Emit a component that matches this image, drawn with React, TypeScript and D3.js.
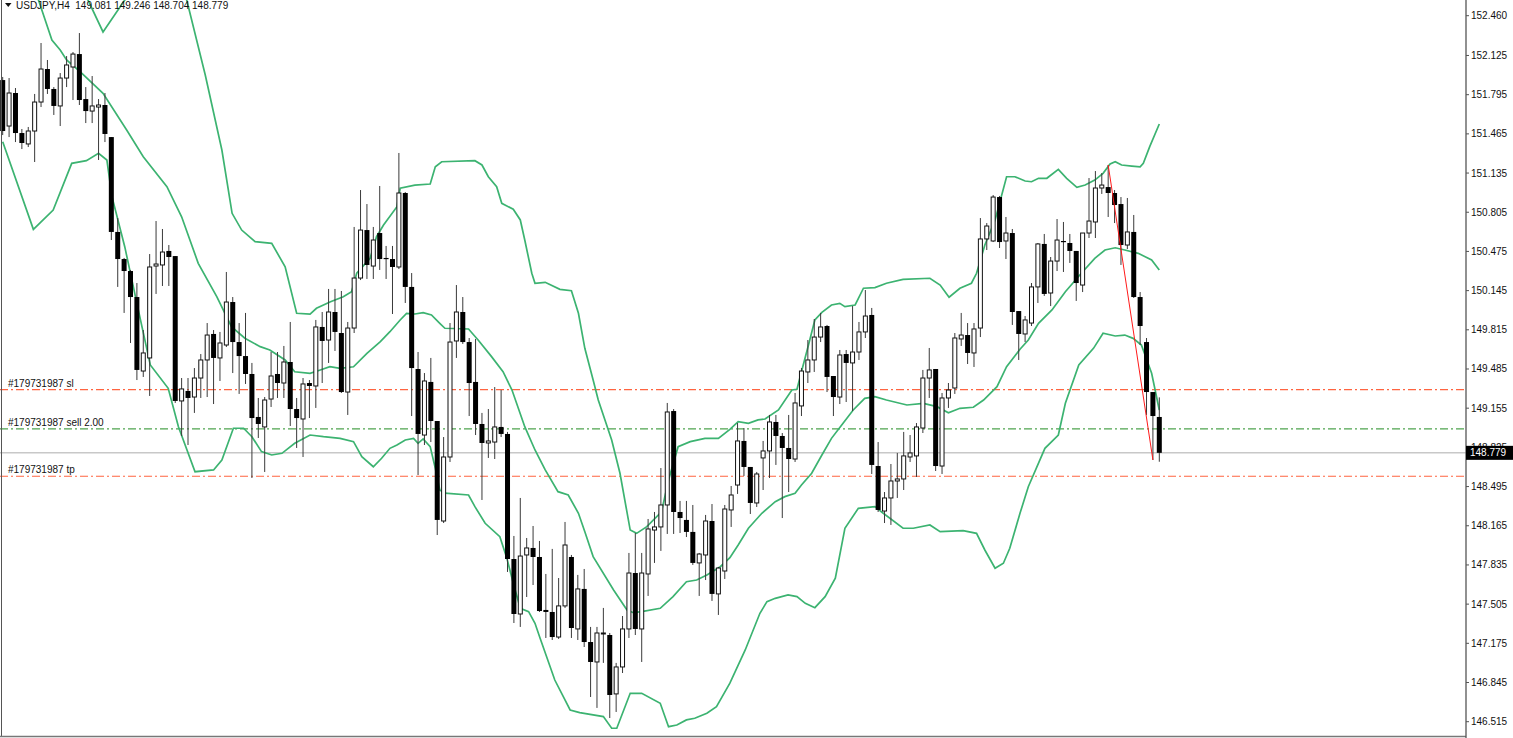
import React from "react";
import * as d3 from "d3";

const W = 1513;
const H = 738;
const PLOT_RIGHT = 1466;
const PLOT_BOTTOM = 736.5;

const symbolTitle = "USDJPY,H4";
const ohlcTitle = ["149.081", "149.246", "148.704", "148.779"];

// [open, high, low, close] per H4 bar
const opens = [
  151.918, 151.531, 151.809, 151.472, 151.380, 151.489, 151.733, 152.011, 151.843, 151.700,
  151.935, 152.028, 152.137, 151.758, 151.657, 151.691, 151.708, 151.438, 150.639, 150.411,
  150.310, 150.091, 149.468, 149.578, 150.352, 150.361, 150.479, 150.436, 149.216, 149.300,
  149.249, 149.409, 149.561, 149.780, 149.578, 149.687, 150.049, 149.712, 149.594, 149.443,
  149.081, 148.997, 149.232, 149.443, 149.367, 149.544, 149.148, 149.064, 149.367, 149.342,
  149.839, 149.729, 149.965, 149.788, 149.291, 149.830, 150.251, 150.655, 150.352, 150.630,
  150.420, 150.411, 150.344, 150.967, 150.176, 149.485, 148.929, 149.376, 149.047, 148.205,
  148.744, 149.721, 149.965, 149.712, 149.376, 149.022, 148.862, 148.870, 148.997, 148.938,
  147.885, 147.422, 147.919, 147.978, 147.902, 147.456, 147.439, 147.228, 147.490, 147.902,
  147.296, 147.633, 147.186, 147.018, 147.254, 147.245, 146.749, 146.976, 147.296, 147.767,
  147.296, 147.759, 148.129, 148.155, 148.340, 149.131, 148.281, 148.214, 148.113, 147.852,
  147.919, 148.205, 147.591, 147.784, 148.298, 148.508, 148.879, 148.660, 148.357, 148.736,
  148.795, 149.039, 148.921, 148.820, 148.727, 149.174, 149.460, 149.561, 149.754, 149.847,
  149.426, 149.249, 149.611, 149.536, 149.628, 149.797, 149.940, 148.668, 148.289, 148.399,
  148.542, 148.559, 148.744, 148.753, 148.988, 149.409, 149.485, 148.668, 149.241, 149.325,
  149.738, 149.771, 149.620, 149.830, 150.580, 150.563, 150.933, 150.563, 150.630, 149.973,
  149.780, 149.872, 150.176, 150.538, 150.125, 150.394, 150.563, 150.546, 150.479, 150.192,
  150.630, 150.723, 151.009, 151.017, 150.967, 150.874, 150.529, 150.639, 150.091, 149.712,
  149.291, 149.081,
];
const highs = [
  151.944, 151.935, 151.851, 151.506, 151.523, 151.801, 152.230, 152.087, 151.859, 151.977,
  152.120, 152.154, 152.314, 151.859, 151.952, 151.758, 151.809, 151.438, 150.756, 150.420,
  150.319, 150.209, 149.813, 150.453, 150.731, 150.664, 150.529, 150.436, 149.409, 149.409,
  149.493, 149.611, 149.872, 149.813, 149.797, 150.302, 150.091, 149.872, 149.957, 149.536,
  149.241, 149.249, 149.628, 149.628, 149.679, 149.881, 149.241, 149.409, 149.392, 149.898,
  149.965, 150.159, 150.159, 150.142, 149.881, 150.681, 150.992, 150.874, 150.681, 151.026,
  150.521, 150.521, 151.304, 150.975, 150.293, 149.628, 149.451, 149.578, 149.047, 148.912,
  149.872, 150.192, 150.091, 149.746, 149.738, 149.115, 149.148, 149.333, 149.308, 148.955,
  148.079, 148.399, 148.062, 148.163, 148.037, 147.759, 147.970, 147.725, 148.197, 147.919,
  147.751, 147.801, 147.313, 147.313, 147.473, 147.262, 147.010, 147.405, 147.936, 148.104,
  147.936, 148.222, 148.281, 148.651, 149.199, 149.148, 148.374, 148.374, 148.340, 147.936,
  148.256, 148.348, 147.818, 148.340, 148.500, 149.030, 148.988, 148.660, 148.618, 148.879,
  149.098, 149.098, 148.946, 149.098, 149.283, 149.493, 149.729, 149.906, 149.957, 149.856,
  149.426, 149.645, 149.645, 150.015, 149.881, 150.150, 149.999, 148.870, 148.449, 148.685,
  148.778, 148.955, 148.929, 149.030, 149.477, 149.662, 149.485, 149.283, 149.367, 149.788,
  149.957, 149.872, 149.872, 150.756, 150.714, 150.950, 150.942, 150.765, 150.664, 149.973,
  149.931, 150.209, 150.546, 150.622, 150.428, 150.748, 150.723, 150.622, 150.479, 150.630,
  151.093, 151.152, 151.135, 151.203, 150.992, 150.933, 150.925, 150.782, 150.133, 149.746,
  149.291, 149.246,
];
const lows = [
  151.455, 151.438, 151.396, 151.337, 151.354, 151.228, 151.691, 151.801, 151.624, 151.531,
  151.859, 151.750, 151.708, 151.556, 151.556, 151.245, 151.396, 150.571, 150.176, 149.957,
  149.704, 149.392, 149.418, 149.258, 150.117, 150.184, 150.184, 149.199, 148.921, 148.845,
  149.115, 149.241, 149.249, 149.190, 149.384, 149.670, 149.451, 149.275, 149.359, 148.567,
  148.904, 148.618, 149.165, 149.241, 149.241, 149.005, 148.820, 148.744, 149.072, 149.157,
  149.367, 149.536, 149.637, 149.283, 149.098, 149.788, 150.234, 150.243, 150.243, 150.319,
  150.243, 149.948, 150.327, 150.041, 149.089, 148.592, 148.845, 148.870, 148.087, 148.188,
  148.702, 149.578, 149.696, 149.089, 148.929, 148.382, 148.736, 148.727, 148.912, 147.776,
  147.346, 147.313, 147.565, 147.666, 147.439, 147.220, 147.203, 147.212, 147.473, 147.220,
  147.203, 147.144, 146.723, 146.631, 147.010, 146.546, 146.597, 146.925, 147.220, 147.245,
  147.018, 147.574, 147.852, 147.953, 148.096, 148.096, 148.104, 148.070, 147.835, 147.574,
  147.708, 147.532, 147.414, 147.717, 148.155, 148.433, 148.584, 148.264, 148.323, 148.466,
  148.567, 148.677, 148.230, 148.449, 148.702, 149.089, 149.367, 149.460, 149.712, 149.291,
  149.089, 149.190, 149.207, 149.131, 149.561, 149.746, 148.601, 148.281, 148.188, 148.172,
  148.399, 148.466, 148.702, 148.576, 148.946, 149.241, 148.626, 148.601, 149.157, 149.275,
  149.679, 149.527, 149.502, 149.754, 150.487, 150.554, 150.504, 150.411, 149.856, 149.561,
  149.712, 149.847, 150.041, 150.100, 150.015, 150.310, 150.302, 150.378, 150.058, 150.133,
  150.588, 150.588, 150.959, 150.765, 150.714, 150.361, 150.495, 150.083, 149.687, 149.098,
  148.719, 148.704,
];
const closes = [
  151.489, 151.809, 151.472, 151.388, 151.489, 151.733, 152.011, 151.843, 151.700, 151.935,
  152.045, 152.137, 151.750, 151.657, 151.700, 151.708, 151.464, 150.639, 150.411, 150.310,
  150.091, 149.477, 149.620, 150.344, 150.369, 150.470, 150.428, 149.216, 149.317, 149.241,
  149.409, 149.561, 149.771, 149.578, 149.704, 150.049, 149.712, 149.594, 149.443, 149.072,
  149.022, 149.224, 149.426, 149.367, 149.544, 149.148, 149.072, 149.359, 149.342, 149.839,
  149.721, 149.965, 149.797, 149.291, 149.830, 150.251, 150.655, 150.361, 150.571, 150.411,
  150.411, 150.344, 150.967, 150.176, 149.493, 148.938, 149.384, 149.047, 148.214, 148.744,
  149.712, 149.965, 149.712, 149.367, 149.022, 148.862, 148.879, 148.997, 148.938, 147.885,
  147.422, 147.910, 147.978, 147.902, 147.447, 147.439, 147.228, 147.490, 148.003, 147.304,
  147.633, 147.186, 147.018, 147.262, 147.262, 146.740, 146.976, 147.296, 147.767, 147.296,
  147.767, 148.138, 148.155, 148.340, 149.123, 148.281, 148.230, 148.113, 147.852, 147.927,
  148.205, 147.591, 147.809, 148.306, 148.424, 148.879, 148.660, 148.357, 148.601, 148.795,
  149.039, 148.921, 148.820, 148.727, 149.199, 149.468, 149.561, 149.754, 149.839, 149.418,
  149.249, 149.603, 149.536, 149.628, 149.797, 149.931, 148.677, 148.298, 148.399, 148.542,
  148.559, 148.753, 148.778, 148.997, 149.409, 149.477, 148.668, 149.241, 149.308, 149.746,
  149.771, 149.620, 149.822, 150.580, 150.689, 150.933, 150.554, 150.630, 149.965, 149.780,
  149.898, 150.176, 150.538, 150.117, 150.394, 150.571, 150.554, 150.479, 150.209, 150.630,
  150.731, 151.009, 151.034, 150.967, 150.866, 150.529, 150.639, 150.091, 149.847, 149.291,
  149.089, 148.779,
];

// Bollinger Bands as [bar index, price]
const bandUpper: [number, number][] = [
  [0, 153.518], [7.4, 153.013], [13.35, 152.592], [15.7, 152.323], [19.1, 152.592], [23.05, 152.803],
  [26.2, 152.76], [28.8, 152.592], [31.7, 151.961], [34.3, 151.329], [35.9, 150.796], [37.4, 150.655],
  [39.5, 150.557], [42.1, 150.543], [44.2, 150.346], [46.0, 149.954], [48.1, 149.948], [49.1, 149.996],
  [51.3, 150.052], [53.3, 150.094], [54.6, 150.136], [55.4, 150.291], [57.5, 150.417], [58.5, 150.599],
  [59.6, 150.698], [61.7, 150.852], [62.2, 151.007], [64.5, 151.034], [66.9, 151.043], [67.7, 151.188],
  [68.7, 151.23], [73.9, 151.239], [75.0, 151.203], [76.0, 151.104], [77.3, 151.02], [78.1, 150.88],
  [79.9, 150.83], [81.0, 150.74], [81.7, 150.571], [82.8, 150.291], [83.3, 150.207], [84.9, 150.215],
  [87.2, 150.156], [89.0, 150.144], [90.1, 149.954], [91.1, 149.659], [92.4, 149.392], [93.2, 149.224],
  [95.3, 148.887], [96.6, 148.607], [98.2, 148.129], [99.2, 148.101], [100.8, 148.157], [103.1, 148.283],
  [104.2, 148.55], [105.7, 148.831], [107.6, 148.873], [109.9, 148.901], [112.0, 148.901], [113.8, 148.977],
  [115.1, 149.041], [116.7, 149.028], [118.2, 149.056], [119.3, 149.064], [121.4, 149.14], [123.5, 149.308],
  [124.3, 149.314], [125.0, 149.462], [126.1, 149.687], [127.1, 149.898], [128.2, 149.962], [129.7, 150.024],
  [131.0, 150.038], [131.8, 150.01], [133.4, 150.024], [134.7, 150.165], [136.5, 150.17], [138.3, 150.207],
  [140.9, 150.24], [145.1, 150.249], [146.7, 150.192], [148.1, 150.089], [149.8, 150.165], [151.6, 150.207],
  [152.4, 150.291], [153.7, 150.529], [155.3, 150.74], [157.1, 151.104], [158.4, 151.104], [160.0, 151.068],
  [161.0, 151.062], [162.1, 151.091], [163.4, 151.091], [165.2, 151.166], [166.5, 151.091], [168.1, 151.015],
  [169.4, 151.034], [170.9, 151.076], [172.2, 151.133], [173.3, 151.211], [174.1, 151.231], [175.1, 151.203],
  [176.7, 151.194], [178.0, 151.188], [178.5, 151.217], [179.5, 151.357], [181.0, 151.548],
];
const bandMiddle: [number, number][] = [
  [0, 153.097], [5.6, 152.592], [7.7, 152.255], [9.0, 152.171], [10.0, 152.087], [12.4, 151.975],
  [15.7, 151.806], [19.4, 151.497], [22.0, 151.273], [25.7, 151.02], [28.0, 150.767], [30.6, 150.375],
  [33.5, 150.094], [35.8, 149.841], [37.9, 149.744], [40.3, 149.673], [41.8, 149.645], [44.2, 149.561],
  [45.7, 149.462], [48.1, 149.449], [49.7, 149.477], [51.2, 149.504], [52.8, 149.491], [54.9, 149.504],
  [57.0, 149.617], [59.1, 149.715], [60.6, 149.799], [62.2, 149.898], [63.2, 149.954], [64.5, 149.948],
  [65.8, 149.959], [67.1, 149.94], [68.4, 149.87], [69.2, 149.828], [72.9, 149.822], [74.4, 149.729],
  [76.5, 149.589], [78.3, 149.462], [79.7, 149.308], [81.7, 148.999], [83.3, 148.803], [84.9, 148.635],
  [86.9, 148.452], [88.5, 148.424], [90.1, 148.27], [91.1, 148.115], [92.4, 147.905], [95.6, 147.624],
  [97.7, 147.456], [98.7, 147.433], [100.0, 147.442], [102.9, 147.47], [104.9, 147.568], [107.0, 147.694],
  [108.6, 147.708], [110.2, 147.751], [112.3, 147.82], [113.8, 147.896], [115.1, 148.003], [116.7, 148.144],
  [118.8, 148.27], [120.9, 148.368], [122.4, 148.41], [124.0, 148.438], [125.0, 148.508], [126.6, 148.607],
  [128.2, 148.761], [129.7, 148.901], [131.3, 149.014], [133.1, 149.14], [134.9, 149.238], [136.5, 149.252],
  [138.3, 149.224], [141.5, 149.182], [144.1, 149.196], [146.2, 149.168], [148.0, 149.117], [149.8, 149.154],
  [151.9, 149.163], [153.5, 149.224], [155.6, 149.336], [157.1, 149.504], [159.2, 149.651], [160.5, 149.729],
  [162.1, 149.87], [164.2, 149.982], [166.3, 150.136], [168.8, 150.291], [170.9, 150.417], [172.5, 150.487],
  [174.1, 150.506], [175.6, 150.487], [177.7, 150.459], [179.8, 150.403], [181.0, 150.319],
];
const bandLower: [number, number][] = [
  [0, 151.399], [4.8, 150.661], [7.9, 150.824], [10.8, 151.217], [13.1, 151.239], [15.0, 151.301],
  [16.3, 151.245], [17.1, 150.936], [19.1, 150.515], [21.0, 150.038], [23.1, 149.519], [25.9, 149.322],
  [27.5, 148.999], [30.1, 148.62], [33.0, 148.635], [34.3, 148.719], [36.1, 148.986], [37.7, 148.986],
  [39.0, 148.915], [40.5, 148.789], [42.1, 148.761], [43.7, 148.775], [45.7, 148.86], [48.1, 148.929],
  [50.2, 148.915], [52.8, 148.901], [54.9, 148.873], [56.2, 148.747], [58.0, 148.662], [59.3, 148.733],
  [60.6, 148.817], [61.7, 148.845], [63.0, 148.887], [64.3, 148.901], [65.0, 148.859], [65.8, 148.896],
  [66.9, 148.831], [67.7, 148.649], [68.4, 148.466], [69.2, 148.439], [72.9, 148.424], [73.9, 148.326],
  [75.5, 148.186], [77.8, 148.073], [78.9, 147.891], [79.9, 147.681], [81.0, 147.47], [82.3, 147.442],
  [83.3, 147.344], [84.1, 147.217], [86.4, 146.866], [88.8, 146.614], [90.3, 146.591], [94.0, 146.558],
  [95.3, 146.46], [96.1, 146.46], [98.2, 146.754], [100.0, 146.754], [102.9, 146.67], [104.2, 146.473],
  [105.5, 146.487], [107.0, 146.53], [108.3, 146.544], [110.2, 146.586], [111.7, 146.642], [113.8, 146.839],
  [116.2, 147.119], [118.5, 147.428], [119.6, 147.526], [120.9, 147.554], [122.9, 147.582], [124.3, 147.568],
  [125.6, 147.512], [127.1, 147.475], [128.7, 147.568], [130.3, 147.723], [131.8, 148.144], [133.9, 148.312],
  [136.5, 148.326], [137.8, 148.27], [140.9, 148.144], [142.5, 148.144], [145.1, 148.172], [146.7, 148.115],
  [150.3, 148.124], [152.4, 148.101], [153.7, 147.961], [155.3, 147.807], [156.6, 147.849], [157.6, 147.975],
  [159.2, 148.27], [160.5, 148.494], [163.1, 148.817], [165.2, 148.929], [166.3, 149.196], [168.4, 149.519],
  [170.7, 149.659], [172.2, 149.786], [174.1, 149.763], [175.6, 149.771], [176.9, 149.743], [178.2, 149.687],
  [179.8, 149.449], [181.0, 149.14],
];

// trend line drawn on the chart (bar index, price)
const trendLine: [number, number][] = [[173, 151.203], [180, 148.719]];

const priceTicks = [
  152.46, 152.125, 151.795, 151.465, 151.135, 150.805, 150.475, 150.145, 149.815, 149.485,
  149.155, 148.825, 148.495, 148.165, 147.835, 147.505, 147.175, 146.845, 146.515,
];

const orderId = "#179731987";
const orderLines = [
  { label: `${orderId} sl`, price: 149.311, kind: "stop" },
  { label: `${orderId} sell 2.00`, price: 148.98, kind: "entry" },
  { label: `${orderId} tp`, price: 148.582, kind: "stop" },
];
const lastPrice = 148.779;

const FONT = "'Liberation Sans', Arial, sans-serif";
const BAND_COLOR = "#3cb371";

export default function App() {
  const n = opens.length;
  const x = d3.scaleLinear().domain([0, n - 1]).range([2.7, 1159.3]);
  const y = d3.scaleLinear().domain([146.515, 152.46]).range([721.7, 15.7]);

  const line = d3
    .line<[number, number]>()
    .x((d) => x(d[0]))
    .y((d) => y(d[1]))
    .curve(d3.curveLinear);

  const candles = d3.range(n).map((i) => {
    const o = opens[i], h = highs[i], l = lows[i], c = closes[i];
    const bull = c >= o;
    const cx = x(i);
    const top = y(Math.max(o, c));
    const bot = y(Math.min(o, c));
    return (
      <g key={i}>
        <line x1={cx} x2={cx} y1={y(h)} y2={y(l)} stroke="#3a3a3a" strokeWidth={1} />
        {bull ? (
          <rect x={cx - 2} y={top} width={4} height={Math.max(bot - top, 1)} fill="#fff" stroke="#111" strokeWidth={1} />
        ) : (
          <rect x={cx - 2.5} y={top} width={5} height={Math.max(bot - top, 1.2)} fill="#000" />
        )}
      </g>
    );
  });

  return (
    <svg
      width={W}
      height={H}
      viewBox={`0 0 ${W} ${H}`}
      style={{ position: "absolute", left: 0, top: 0, background: "#fff", display: "block" }}
    >
      <defs>
        <clipPath id="plotClip">
          <rect x={0} y={0} width={PLOT_RIGHT} height={PLOT_BOTTOM} />
        </clipPath>
      </defs>
      <rect x={0} y={0} width={W} height={H} fill="#fff" />

      <g clipPath="url(#plotClip)">
        {/* current price line */}
        <line x1={0} x2={PLOT_RIGHT} y1={y(lastPrice)} y2={y(lastPrice)} stroke="#c8c8c8" strokeWidth={1.5} />

        {/* order lines */}
        {orderLines.map((o) => (
          <g key={o.label}>
            <line
              x1={0}
              x2={PLOT_RIGHT}
              y1={y(o.price)}
              y2={y(o.price)}
              stroke={o.kind === "entry" ? "#4fa44f" : "#ff6440"}
              strokeWidth={1.2}
              strokeDasharray="8,3,2,3"
            />
            <text x={8} y={y(o.price) - 3} fontFamily={FONT} fontSize={10} fill="#111">
              {o.label}
            </text>
          </g>
        ))}

        {/* Bollinger bands */}
        {[bandUpper, bandMiddle, bandLower].map((b, k) => (
          <path key={k} d={line(b) || ""} fill="none" stroke={BAND_COLOR} strokeWidth={1.7} />
        ))}

        {candles}

        {/* trend line */}
        <path d={line(trendLine) || ""} fill="none" stroke="#ff1a1a" strokeWidth={1} />
      </g>

      {/* frame */}
      <line x1={1.5} x2={1.5} y1={0} y2={PLOT_BOTTOM} stroke="#555" strokeWidth={1} />
      <line x1={0} x2={PLOT_RIGHT} y1={PLOT_BOTTOM} y2={PLOT_BOTTOM} stroke="#777" strokeWidth={1.6} />
      <line x1={PLOT_RIGHT} x2={PLOT_RIGHT} y1={0} y2={H} stroke="#555" strokeWidth={1.3} />

      {/* price axis */}
      {priceTicks.map((t) => (
        <g key={t}>
          <line x1={PLOT_RIGHT} x2={PLOT_RIGHT + 3} y1={y(t)} y2={y(t)} stroke="#555" strokeWidth={1} />
          <text x={1471} y={y(t)} dy="0.35em" fontFamily={FONT} fontSize={10} fill="#111">
            {t.toFixed(3)}
          </text>
        </g>
      ))}

      {/* last price label */}
      <rect x={PLOT_RIGHT} y={y(lastPrice) - 7} width={W - PLOT_RIGHT} height={14} fill="#000" />
      <text x={1470} y={y(lastPrice)} dy="0.35em" fontFamily={FONT} fontSize={10} fill="#fff">
        {lastPrice.toFixed(3)}
      </text>

      {/* title */}
      <path d="M5,3 L11.5,3 L8.25,7 Z" fill="#111" />
      <text x={16} y={8.7} fontFamily={FONT} fontSize={10} fill="#111" style={{ whiteSpace: "pre" }}>
        {`${symbolTitle}  ${ohlcTitle.join(" ")}`}
      </text>
    </svg>
  );
}
